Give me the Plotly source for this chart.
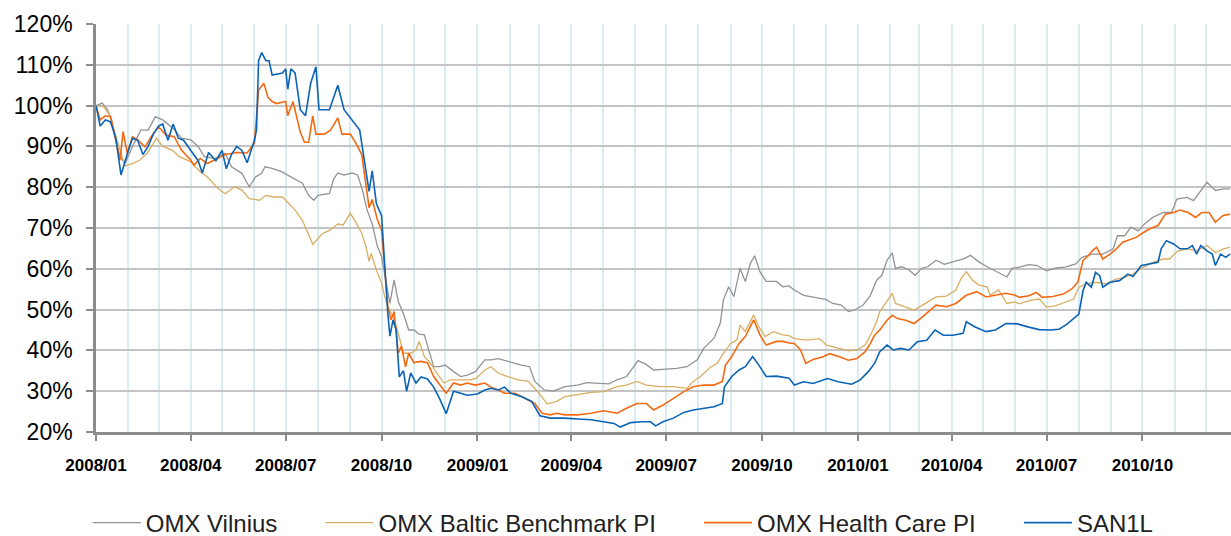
import plotly.graph_objects as go

# ---------------- data (% of start value) ----------------
vilnius_dates = ["2008-01-01","2008-01-07","2008-01-12","2008-01-16","2008-01-19","2008-01-24","2008-01-29","2008-02-05","2008-02-13","2008-02-20","2008-02-27","2008-03-05","2008-03-15","2008-03-23","2008-04-01","2008-04-08","2008-04-14","2008-04-24","2008-05-04","2008-05-10","2008-05-20","2008-05-27","2008-06-02","2008-06-08","2008-06-11","2008-06-18","2008-06-27","2008-07-09","2008-07-17","2008-07-23","2008-07-28","2008-08-01","2008-08-12","2008-08-16","2008-08-20","2008-08-26","2008-09-03","2008-09-08","2008-09-13","2008-09-17","2008-09-22","2008-09-27","2008-10-01","2008-10-05","2008-10-09","2008-10-13","2008-10-17","2008-10-22","2008-10-27","2008-11-01","2008-11-06","2008-11-11","2008-11-16","2008-11-20","2008-11-26","2008-12-01","2008-12-09","2008-12-16","2008-12-23","2008-12-30","2009-01-08","2009-01-14","2009-01-21","2009-01-30","2009-02-12","2009-02-20","2009-02-25","2009-03-06","2009-03-15","2009-03-26","2009-04-07","2009-04-16","2009-04-26","2009-05-07","2009-05-15","2009-05-24","2009-05-31","2009-06-04","2009-06-11","2009-06-19","2009-07-01","2009-07-11","2009-07-21","2009-07-31","2009-08-06","2009-08-16","2009-08-22","2009-08-25","2009-08-30","2009-09-04","2009-09-10","2009-09-15","2009-09-20","2009-09-24","2009-09-29","2009-10-05","2009-10-15","2009-10-21","2009-10-27","2009-11-01","2009-11-10","2009-11-19","2009-12-01","2009-12-08","2009-12-16","2009-12-23","2009-12-29","2010-01-06","2010-01-13","2010-01-19","2010-01-24","2010-01-29","2010-02-03","2010-02-06","2010-02-12","2010-02-19","2010-02-25","2010-03-03","2010-03-09","2010-03-17","2010-03-25","2010-04-02","2010-04-13","2010-04-19","2010-04-27","2010-05-05","2010-05-11","2010-05-18","2010-05-24","2010-05-29","2010-06-05","2010-06-14","2010-06-22","2010-07-01","2010-07-10","2010-07-19","2010-07-29","2010-08-04","2010-08-14","2010-08-24","2010-09-03","2010-09-07","2010-09-14","2010-09-20","2010-09-27","2010-10-03","2010-10-11","2010-10-21","2010-10-29","2010-11-03","2010-11-13","2010-11-19","2010-11-26","2010-12-02","2010-12-10","2010-12-18","2010-12-24"]
vilnius_values = [100,100.6,99,96.5,92.4,87.5,85.8,90,94,94,97.3,96.5,94.4,92,91.6,90,87.5,87,88.3,85,83.4,80.1,82.5,83.4,85,84.6,83.8,82.1,81,78,76.8,78,78.5,82,83.5,83,83.5,83,79,74.5,71,65.5,63,57.3,51.5,57.3,52,49,45,45,44,43.8,39.3,36,36,36.4,34.8,33.6,34,34.8,37.7,37.7,38,37.3,36.4,36,32.4,30.3,30,31.1,31.5,32.1,31.9,31.8,32.8,33.6,36,37.5,36.7,35.2,35.4,35.6,36,37.7,40.5,43,46.7,52.4,55.6,53.2,60.1,56.9,61.4,63.2,59.3,56.9,56.9,55.6,55.8,54.8,53.5,53,52.5,51.5,51.1,49.5,49.9,51.1,53.5,57.2,58.4,62.1,63.9,60.1,60.5,59.7,58.4,60.1,60.5,62.1,61.1,61.7,62.5,63.3,61.7,60.5,59.7,58.9,58,60.1,60.4,61,60.8,59.5,60.2,60.4,61.2,62.8,63.6,63.6,64.9,68.1,68.1,70.2,69.3,71,72.6,73.8,73.8,77.1,77.5,76.7,79.2,81.2,79.2,79.6,79.6]

baltic_dates = ["2008-01-01","2008-01-08","2008-01-14","2008-01-19","2008-01-24","2008-01-29","2008-02-05","2008-02-12","2008-02-19","2008-02-25","2008-02-28","2008-03-05","2008-03-14","2008-03-21","2008-04-01","2008-04-10","2008-04-17","2008-04-27","2008-05-04","2008-05-13","2008-05-20","2008-05-27","2008-06-06","2008-06-12","2008-06-19","2008-06-28","2008-07-04","2008-07-10","2008-07-17","2008-07-23","2008-07-27","2008-08-05","2008-08-12","2008-08-20","2008-08-25","2008-09-01","2008-09-05","2008-09-12","2008-09-16","2008-09-19","2008-09-21","2008-09-26","2008-10-01","2008-10-04","2008-10-07","2008-10-12","2008-10-17","2008-10-22","2008-10-29","2008-11-03","2008-11-06","2008-11-11","2008-11-17","2008-11-23","2008-11-30","2008-12-06","2008-12-16","2008-12-25","2008-12-31","2009-01-08","2009-01-14","2009-01-21","2009-01-30","2009-02-09","2009-02-19","2009-03-01","2009-03-09","2009-03-18","2009-03-26","2009-04-07","2009-04-20","2009-05-02","2009-05-15","2009-05-24","2009-06-03","2009-06-12","2009-06-25","2009-07-08","2009-07-21","2009-07-27","2009-08-03","2009-08-13","2009-08-19","2009-08-25","2009-09-01","2009-09-07","2009-09-10","2009-09-15","2009-09-23","2009-09-28","2009-10-04","2009-10-12","2009-10-21","2009-10-27","2009-11-01","2009-11-13","2009-11-25","2009-12-02","2009-12-13","2009-12-23","2009-12-31","2010-01-08","2010-01-14","2010-01-19","2010-01-22","2010-01-29","2010-02-03","2010-02-06","2010-02-14","2010-02-24","2010-03-04","2010-03-17","2010-03-27","2010-04-05","2010-04-10","2010-04-15","2010-04-21","2010-04-27","2010-05-05","2010-05-08","2010-05-16","2010-05-24","2010-06-01","2010-06-05","2010-06-14","2010-06-24","2010-07-01","2010-07-10","2010-07-19","2010-07-27","2010-08-01","2010-08-08","2010-08-18","2010-08-27","2010-09-06","2010-09-14","2010-09-22","2010-10-02","2010-10-11","2010-10-21","2010-10-27","2010-11-04","2010-11-14","2010-11-22","2010-12-02","2010-12-10","2010-12-18","2010-12-24"]
baltic_values = [100,99.8,97.7,93.2,89.1,85.2,85.8,86.6,88.3,90.7,92,90,89.1,87.5,86.2,83.8,82.5,79.7,78.4,80.1,79.3,77.2,76.8,78,77.6,77.6,76,74.4,71.9,68.2,66,68.6,69.4,71,70.7,73.6,72,68.7,65.5,61.8,63.8,59.7,56.5,53.2,50.7,48.3,44.2,39.3,39.3,40.1,42.2,38.5,36.8,34.4,32,32.8,32.8,32.8,33.2,35.2,36,34.4,33.6,32.8,32.4,29.5,26.9,27.5,28.7,29.1,29.7,29.9,31.1,31.5,32.4,31.5,31.1,31.1,30.7,32.4,33.6,36,36.8,39.3,41.7,42.6,46.2,44.6,48.7,45.8,43.4,44.6,43.8,43.6,42.9,42.5,42.9,41.3,40.5,39.9,40.1,41.3,44.2,47,49.5,52.3,54,51.5,50.7,49.9,51.1,53.1,53.3,54.8,57.6,59.3,57.2,56,55.6,53.5,54.8,51.5,51.9,51.4,52.2,52.6,50.6,51,51.8,52.6,55.5,56.3,56.7,56.3,57.5,57.9,58.7,60.4,61.6,62.4,62.4,64.4,64.9,64.4,65.7,64,64.9,65.3]

health_dates = ["2008-01-01","2008-01-05","2008-01-10","2008-01-15","2008-01-18","2008-01-24","2008-01-27","2008-01-31","2008-02-05","2008-02-10","2008-02-17","2008-02-23","2008-03-01","2008-03-08","2008-03-16","2008-03-23","2008-04-01","2008-04-04","2008-04-10","2008-04-17","2008-04-23","2008-05-04","2008-05-15","2008-05-25","2008-06-01","2008-06-05","2008-06-10","2008-06-14","2008-06-18","2008-06-22","2008-07-01","2008-07-03","2008-07-08","2008-07-15","2008-07-19","2008-07-23","2008-07-27","2008-07-30","2008-08-07","2008-08-13","2008-08-20","2008-08-24","2008-09-01","2008-09-07","2008-09-12","2008-09-16","2008-09-19","2008-09-22","2008-09-27","2008-10-01","2008-10-04","2008-10-07","2008-10-10","2008-10-13","2008-10-17","2008-10-20","2008-10-24","2008-10-27","2008-11-01","2008-11-08","2008-11-14","2008-11-20","2008-11-26","2008-12-02","2008-12-09","2008-12-16","2008-12-22","2008-12-30","2009-01-08","2009-01-14","2009-01-21","2009-01-27","2009-02-06","2009-02-15","2009-02-25","2009-03-04","2009-03-12","2009-03-18","2009-03-26","2009-04-07","2009-04-20","2009-05-02","2009-05-15","2009-05-24","2009-06-03","2009-06-12","2009-06-19","2009-06-28","2009-07-08","2009-07-18","2009-07-27","2009-08-06","2009-08-16","2009-08-24","2009-08-27","2009-09-02","2009-09-09","2009-09-15","2009-09-23","2009-09-29","2009-10-05","2009-10-15","2009-10-21","2009-10-27","2009-11-01","2009-11-07","2009-11-12","2009-11-19","2009-11-28","2009-12-05","2009-12-15","2009-12-23","2009-12-31","2010-01-08","2010-01-13","2010-01-17","2010-01-22","2010-01-29","2010-02-03","2010-02-08","2010-02-16","2010-02-24","2010-03-04","2010-03-17","2010-03-27","2010-04-05","2010-04-15","2010-04-25","2010-05-04","2010-05-13","2010-05-23","2010-06-01","2010-06-05","2010-06-14","2010-06-21","2010-06-27","2010-07-07","2010-07-17","2010-07-25","2010-07-31","2010-08-05","2010-08-10","2010-08-14","2010-08-18","2010-08-24","2010-08-31","2010-09-06","2010-09-12","2010-09-19","2010-09-25","2010-10-02","2010-10-08","2010-10-16","2010-10-23","2010-10-31","2010-11-06","2010-11-14","2010-11-21","2010-11-27","2010-12-04","2010-12-10","2010-12-17","2010-12-24"]
health_values = [100,96.5,97.5,97.3,94,86.6,93.6,88.3,92.4,91.6,89.9,92.4,94.8,92.8,92.4,89.1,86.6,85.4,87,85.8,86.6,88,88.5,88.4,90.8,103.8,105.5,102,101,100.5,101,97.5,101,93.5,91,91,97.5,93,93,94,97,93,93,90.5,88,80,75,77,72,69.5,60.5,50.7,47.5,49.5,39.3,41,36,39.3,37,37.3,37,33.6,31.5,29.5,32,31.5,32,31.5,32,31,30.3,29.5,29.5,28.3,27,24.6,24.2,24.6,24.2,24.2,24.6,25.2,24.6,25.8,27,27,25.4,26.6,28.3,29.9,31.1,31.5,31.5,32.4,36.4,38.5,41.7,43.4,47.5,43.8,41.3,42.2,42.2,41.8,41.7,40.1,36.8,37.8,38.4,39.2,38.4,37.6,38,39.7,41.7,43.7,45,47.4,48.6,47.8,47.4,46.6,48.2,51.1,50.7,51.5,53.5,54.4,53.1,53.5,54,53.5,53,53.4,54.2,53,53.2,53.8,55,56.7,62,63.2,64.4,65.3,62.4,63.6,64.9,66.5,67.1,67.7,68.9,69.8,70.6,73.4,73.8,74.4,73.8,72.6,73.8,73.8,71.4,73,73.4]

san1l_dates = ["2008-01-01","2008-01-05","2008-01-10","2008-01-15","2008-01-20","2008-01-25","2008-02-01","2008-02-05","2008-02-10","2008-02-15","2008-02-20","2008-02-25","2008-03-01","2008-03-05","2008-03-10","2008-03-15","2008-03-20","2008-03-25","2008-04-01","2008-04-08","2008-04-12","2008-04-18","2008-04-25","2008-05-01","2008-05-05","2008-05-10","2008-05-15","2008-05-20","2008-05-25","2008-06-01","2008-06-03","2008-06-05","2008-06-08","2008-06-12","2008-06-15","2008-06-18","2008-06-28","2008-07-01","2008-07-03","2008-07-06","2008-07-10","2008-07-15","2008-07-20","2008-07-25","2008-07-30","2008-08-02","2008-08-12","2008-08-20","2008-08-26","2008-09-01","2008-09-10","2008-09-16","2008-09-19","2008-09-22","2008-09-26","2008-10-01","2008-10-04","2008-10-07","2008-10-09","2008-10-12","2008-10-15","2008-10-18","2008-10-22","2008-10-25","2008-10-29","2008-11-03","2008-11-08","2008-11-14","2008-11-20","2008-11-26","2008-12-02","2008-12-06","2008-12-09","2008-12-16","2008-12-22","2009-01-01","2009-01-08","2009-01-14","2009-01-21","2009-01-27","2009-02-02","2009-02-12","2009-02-22","2009-03-02","2009-03-12","2009-03-18","2009-03-26","2009-04-07","2009-04-20","2009-05-02","2009-05-12","2009-05-18","2009-05-28","2009-06-07","2009-06-16","2009-06-21","2009-06-28","2009-07-08","2009-07-18","2009-07-27","2009-08-06","2009-08-16","2009-08-24","2009-08-26","2009-09-02","2009-09-09","2009-09-15","2009-09-22","2009-09-28","2009-10-05","2009-10-15","2009-10-27","2009-11-01","2009-11-10","2009-11-19","2009-12-03","2009-12-13","2009-12-26","2010-01-03","2010-01-11","2010-01-17","2010-01-22","2010-01-29","2010-02-04","2010-02-11","2010-02-19","2010-02-27","2010-03-08","2010-03-16","2010-03-24","2010-04-02","2010-04-12","2010-04-15","2010-04-23","2010-05-04","2010-05-13","2010-05-23","2010-06-03","2010-06-14","2010-06-24","2010-07-04","2010-07-13","2010-07-21","2010-07-27","2010-08-01","2010-08-05","2010-08-08","2010-08-13","2010-08-17","2010-08-21","2010-08-24","2010-08-31","2010-09-09","2010-09-17","2010-09-22","2010-09-30","2010-10-08","2010-10-16","2010-10-19","2010-10-24","2010-10-31","2010-11-06","2010-11-13","2010-11-18","2010-11-22","2010-11-26","2010-12-02","2010-12-07","2010-12-10","2010-12-15","2010-12-20","2010-12-24"]
san1l_values = [100,95,96.5,96,92,83,89,92,91.5,88,90,93,95,95.5,91.5,95.5,92,91.5,89,86.5,83.5,88.5,86.5,89,84.5,88,90,89,86,91.5,94,111,113,111,111,107.5,108,109,104,109,108,99,97.5,105.5,109.5,99,99,105,99,97,94,84,79,84,76,73,60.5,49,43.5,47.5,45,33.5,35,30,34.5,32,33.5,33,31,28,24.5,27.5,30,29.5,29,29.3,30.3,30.7,30.3,31,29.5,28.7,27.5,24,23.4,23.4,23.4,23.2,23,22.5,22.1,21.2,22.3,22.5,22.5,21.5,22.5,23.4,24.8,25.4,25.8,26.2,27,31.1,33.6,35.2,36,38.5,36.4,33.6,33.7,33.2,31.5,32.3,31.9,33.1,32.3,31.7,32.7,34.8,36.8,39.7,41.3,40.1,40.5,40.1,42.1,42.5,45,43.7,43.7,44.2,47,45.8,44.6,45,46.6,46.5,45.7,45.1,45,45.2,46.5,47.7,48.9,54.6,56.7,55.5,59.1,58.3,55.5,56.7,57.1,58.7,58.1,60.8,61.2,61.6,64.9,66.9,66.1,64.9,64.9,65.7,63.6,65.7,64.4,63.6,60.8,63.6,62.8,63.6]

series_names = ["OMX Vilnius", "OMX Baltic Benchmark PI", "OMX Health Care PI", "SAN1L"]
series_colors = ["#939393", "#D9AE62", "#F36A12", "#0B63B6"]
series_widths = [1.3, 1.3, 1.6, 1.6]
series_data = [(vilnius_dates, vilnius_values), (baltic_dates, baltic_values),
               (health_dates, health_values), (san1l_dates, san1l_values)]

quarter_ticks = ["2008-01-01","2008-04-01","2008-07-01","2008-10-01","2009-01-01","2009-04-01",
                 "2009-07-01","2009-10-01","2010-01-01","2010-04-01","2010-07-01","2010-10-01"]
quarter_labels = ["2008/01","2008/04","2008/07","2008/10","2009/01","2009/04",
                  "2009/07","2009/10","2010/01","2010/04","2010/07","2010/10"]
y_ticks = [20, 30, 40, 50, 60, 70, 80, 90, 100, 110, 120]

# ---------------- figure ----------------
NBSP = "\u00a0"
fig = go.Figure()
for i, ((d, v), name, color, w) in enumerate(zip(series_data, series_names, series_colors, series_widths)):
    label = name + (NBSP * 5 + "\u2009" if i < len(series_names) - 1 else "")
    fig.add_trace(go.Scatter(x=d, y=v, mode="lines", name=label,
                             line=dict(color=color, width=w)))

fig.update_layout(
    width=1231, height=536,
    margin=dict(l=96, r=0, t=24, b=104, autoexpand=False),
    paper_bgcolor="white", plot_bgcolor="white",
    font=dict(family="Arial, Liberation Sans, sans-serif", color="#000000"),
    showlegend=True,
    legend=dict(orientation="h", x=0.4645, xanchor="center", y=-0.223, yanchor="middle",
                font=dict(size=24, color="#222222"), itemwidth=48,
                traceorder="normal", tracegroupgap=0),
)
fig.update_xaxes(
    type="date", range=["2008-01-01", "2010-12-25"], automargin=False,
    tickmode="array", tickvals=quarter_ticks, ticktext=quarter_labels,
    tickfont=dict(size=17, family="Arial, Liberation Sans, sans-serif", weight="bold"),
    ticks="outside", ticklen=6, tickcolor="#8c8c8c", tickwidth=2,
    ticklabelstandoff=10,
    showline=True, linecolor="#8c8c8c", linewidth=2.5,
    showgrid=True, gridcolor="#D9ECF3", gridwidth=1.5,
    minor=dict(dtick="M1", tick0="2008-01-01", showgrid=True, gridcolor="#D9ECF3", gridwidth=1.5),
    zeroline=False,
)
fig.update_yaxes(
    range=[20, 120], automargin=False, tickmode="array", tickvals=y_ticks,
    ticktext=[f"{t}%" for t in y_ticks],
    tickfont=dict(size=23, family="Arial, Liberation Sans, sans-serif"),
    ticks="outside", ticklen=7, tickcolor="#8c8c8c", tickwidth=1.5,
    ticklabelstandoff=9,
    showline=True, linecolor="#8c8c8c", linewidth=2.5,
    showgrid=True, gridcolor="#C4C4C4", gridwidth=1.5,
    zeroline=False,
)

# remove the default 8px page margin so the 1231x536 figure fills the window exactly
fig.write_html("out.html", config={"displayModeBar": False},
               post_script="document.body.style.margin='0';document.body.style.overflow='hidden';")
